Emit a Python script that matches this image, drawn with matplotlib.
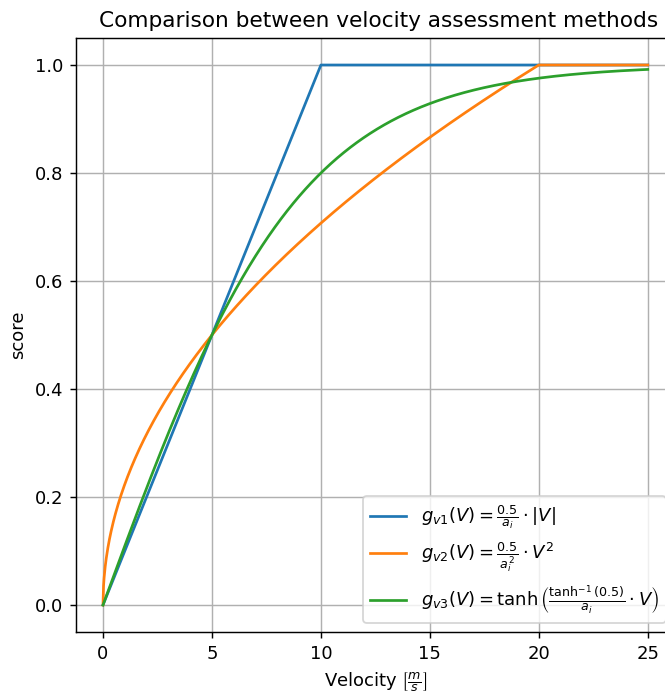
import numpy as np
import matplotlib
matplotlib.use("Agg")
import matplotlib.pyplot as plt

# reference velocity a_i at which every method gives a score of 0.5
a_i = 5.0
v_max = 25.0
n_samples = 1001

labels = [
    r"$g_{v1}(V) = \frac{0.5}{a_i}\cdot|V|$",
    r"$g_{v2}(V) = \frac{0.5}{a_i^2}\cdot V^2$",
    r"$g_{v3}(V) = \tanh\left(\frac{\tanh^{-1}(0.5)}{a_i}\cdot V\right)$",
]
x_ticks = [0, 5, 10, 15, 20, 25]
y_ticks = [0.0, 0.2, 0.4, 0.6, 0.8, 1.0]

V = np.linspace(0, v_max, n_samples)
g1 = np.minimum(0.5 / a_i * np.abs(V), 1.0)
g2 = np.minimum(0.5 * np.sqrt(V / a_i), 1.0)
g3 = np.tanh(np.arctanh(0.5) / a_i * V)

dpi = 130
fig = plt.figure(figsize=(665 / dpi, 694 / dpi), dpi=dpi)
ax = fig.add_axes([75.75 / 665, 62 / 694, (675 - 75.75) / 665, 594 / 694])

ax.plot(V, g1, label=labels[0])
ax.plot(V, g2, label=labels[1])
ax.plot(V, g3, label=labels[2])

ax.set_xlim(-1.25, 26.25)
ax.set_ylim(-0.05, 1.05)
ax.set_xticks(x_ticks)
ax.set_yticks(y_ticks)
ax.grid(True, color="#b0b0b0", linewidth=0.8)
ax.set_axisbelow(True)

ax.set_title("Comparison between velocity assessment methods", x=0.505)
ax.set_xlabel(r"Velocity $\left[\frac{m}{s}\right]$")
ax.set_ylabel("score")
ax.legend(loc="lower right")

fig.savefig("out.png", dpi=dpi)
